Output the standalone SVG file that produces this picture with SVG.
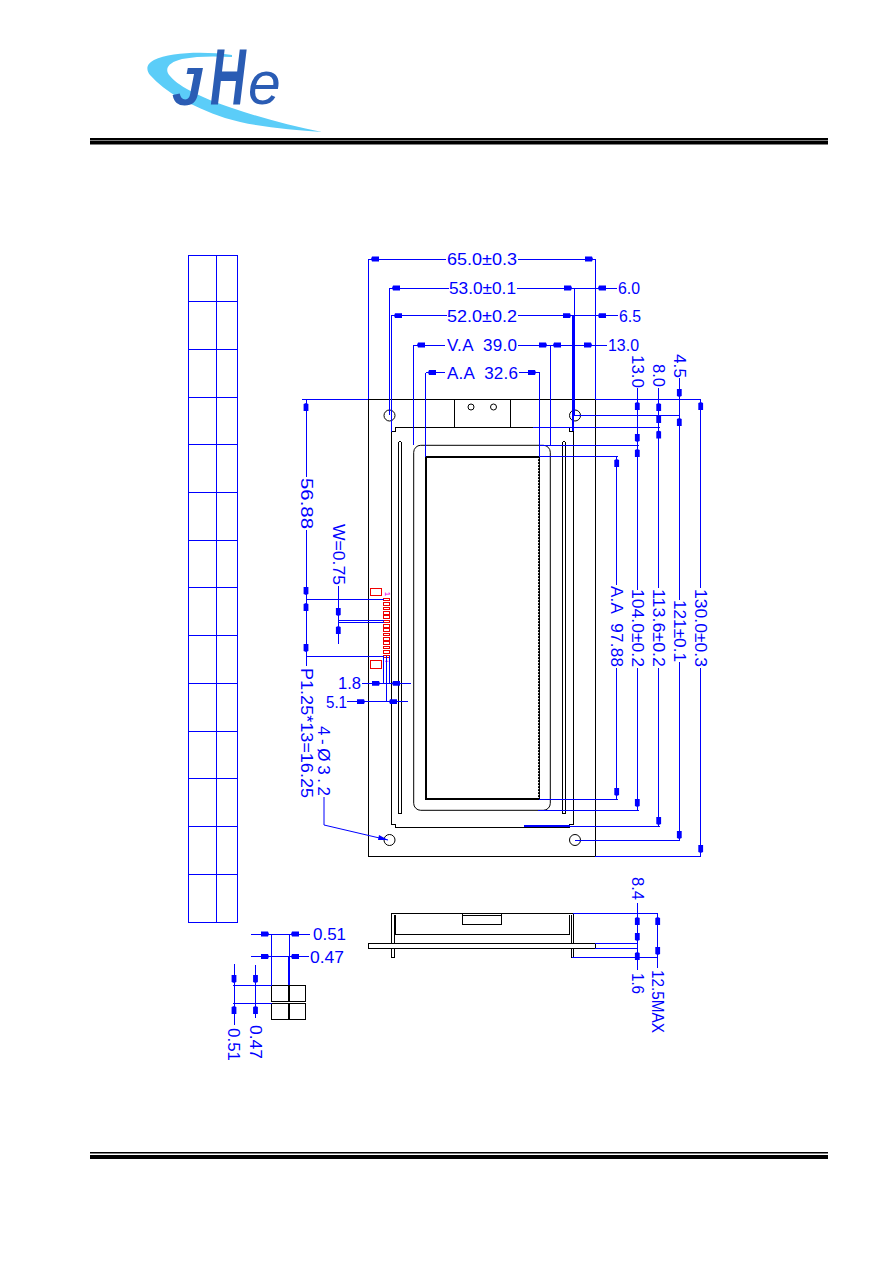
<svg xmlns="http://www.w3.org/2000/svg" xmlns:xlink="http://www.w3.org/1999/xlink" width="892" height="1263" viewBox="0 0 892 1263">
<style>
.k{fill:none;stroke:#000;stroke-width:1;shape-rendering:crispEdges}
.c{fill:none;stroke:#000;stroke-width:1}
.kt{fill:none;stroke:#000;stroke-width:2;shape-rendering:crispEdges}
.b{fill:none;stroke:#0000ff;stroke-width:1;shape-rendering:crispEdges}
.bt{fill:none;stroke:#0000ff;stroke-width:2;shape-rendering:crispEdges}
.r{fill:none;stroke:#f00000;stroke-width:1;shape-rendering:crispEdges}
.t{font-family:"Liberation Sans",Arial,sans-serif;font-size:17px;fill:#0000ff}
.af{fill:#0000ff}
.logo{font-family:"Liberation Sans",Arial,sans-serif;font-style:italic;font-weight:bold;fill:#2a5cb4}
</style>
<defs>
<path id="aL" class="af" d="M0 0L1-2.4H8V2.4H1Z"/>
<path id="aR" class="af" d="M0 0L-1-2.4H-8V2.4H-1Z"/>
<path id="aU" class="af" d="M0 0L-2.4 1V8H2.4V1Z"/>
<path id="aD" class="af" d="M0 0L-2.4-1V-8H2.4V-1Z"/>
</defs>
<rect width="892" height="1263" fill="#fff"/>

<g id="logo">
<path fill="#5bcdf8" d="M232 55C205 51 170 52 154 60C146 64 146 70 150 75C165 92 190 106 225 118C255 127 290 130 322 132C290 126 262 118 232 108C205 99 180 88 170 76C163 68 170 62 182 59C197 56 215 56 232 57Z"/>
<text class="logo" transform="translate(172 105) scale(1 1)" font-size="54">J</text>
<text class="logo" transform="translate(210 105) scale(.62 1)" font-size="80">H</text>
<text class="logo" transform="translate(248 104) scale(.95 1)" font-size="62" style="font-weight:normal">e</text>
</g>

<g id="rules" fill="#000">
<rect x="90" y="138" width="738" height="2"/>
<rect x="90" y="140.5" width="738" height="4"/>
<rect x="90" y="1152" width="738" height="1.5"/>
<rect x="90" y="1155" width="738" height="4"/>
</g>

<g id="pin-table">
<path class="b" d="M188.5 255H237.5V922.3H188.5ZM216.5 255V922.3M188.5 301H237.5M188.5 349H237.5M188.5 397H237.5M188.5 444H237.5M188.5 492H237.5M188.5 540H237.5M188.5 587H237.5M188.5 635H237.5M188.5 683H237.5M188.5 731H237.5M188.5 778H237.5M188.5 826H237.5M188.5 874H237.5"/>
</g>

<g id="front-view">
<rect class="k" x="368.3" y="399.3" width="227" height="457"/>
<path class="k" d="M454.7 399.3V427.3M510.3 399.3V427.3"/>
<circle class="c" cx="471" cy="407" r="3"/>
<circle class="c" cx="493.5" cy="407" r="3"/>
<circle class="c" cx="389.5" cy="415.5" r="5.5"/>
<circle class="c" cx="575" cy="415.5" r="5.5"/>
<circle class="c" cx="389.5" cy="840" r="5.5"/>
<circle class="c" cx="575" cy="840" r="5.5"/>
<path class="k" d="M395 427.3H569.5V431.5H573.3V824.3H569.5V827.3H395V824.3H391.7V431.5H395Z"/>
<path class="k" d="M398.3 813V444Q398.3 441.5 400 441.5Q401.7 441.5 401.7 444V813Z"/>
<path class="k" d="M562.3 813V444Q562.3 441.5 564 441.5Q565.7 441.5 565.7 444V813Z"/>
<rect class="c" x="413.7" y="445.3" width="136.6" height="365" rx="7"/>
<rect class="kt" x="426" y="457" width="113" height="342"/>
<path d="M538.6 458V798" stroke="#fff" stroke-width="1" stroke-dasharray="1.2 1.8" fill="none"/>
</g>

<g id="connector">
<rect class="r" x="370.3" y="588.3" width="11.4" height="7"/>
<rect class="r" x="370.3" y="660" width="11.4" height="8"/>
<path class="r" d="M383.3 598.3h6.4v2.6h-6.4zM383.3 602.7h6.4v2.6h-6.4zM383.3 607h6.4v2.6h-6.4zM383.3 611.4h6.4v2.6h-6.4zM383.3 615.7h6.4v2.6h-6.4zM383.3 620.1h6.4v2.6h-6.4zM383.3 624.5h6.4v2.6h-6.4zM383.3 628.8h6.4v2.6h-6.4zM383.3 633.2h6.4v2.6h-6.4zM383.3 637.5h6.4v2.6h-6.4zM383.3 641.9h6.4v2.6h-6.4zM383.3 646.3h6.4v2.6h-6.4zM383.3 650.6h6.4v2.6h-6.4zM383.3 655h6.4v2.6h-6.4z"/>
<text transform="translate(385 592) rotate(90)" font-family="Liberation Sans,Arial,sans-serif" font-size="7" font-weight="bold" fill="#f000f0">1</text>
<path d="M385 661.3H388.5" stroke="#f000f0" stroke-width="0.8" fill="none"/>
</g>

<g id="side-view">
<rect class="k" x="391.7" y="913.3" width="181.6" height="30"/>
<rect class="k" x="368.3" y="943.3" width="227" height="5"/>
<path class="k" d="M391.7 948.3V957.3H394V948.3M571 948.3V957.3H573.3V948.3"/>
<path class="kt" d="M394.7 915V934.3"/>
<path class="k" d="M394 934.3H569.5V915M571.7 915V943.3M394 934.3V943.3"/>
<path class="k" d="M462.3 913.3V924.3H501.7V913.3M462.3 915.3H501.7"/>
</g>

<g id="pad-detail">
<path class="k" d="M271.7 985.3H305.7V1001.3H271.7ZM271.7 1003.3H305.7V1019.5H271.7Z"/>
<path class="kt" d="M288.7 985.3V1001.3M288.7 1003.3V1019.5"/>
</g>

<g id="connectors">
<path class="b" d="M368.3 259V399.3M595.3 259V399.3M368.3 259H446M518 259H595.3"/>
<path class="b" d="M389.7 288V415M574.3 288V415.5M389.7 288H449M517 288H617"/>
<path class="b" d="M391 315.7V432M391 315.7H447M518 315.7H618"/>
<path class="bt" d="M573.3 315.7V431"/>
<path class="b" d="M413.7 345V445M550.3 345V445M413.7 345H445M518 345H607"/>
<path class="b" d="M425.5 372.5V457M539.5 372.5V457M425.5 372.5H445M519 372.5H539.5"/>
<use xlink:href="#aL" x="371" y="259"/><use xlink:href="#aR" x="593" y="259"/>
<use xlink:href="#aL" x="392" y="288"/><use xlink:href="#aR" x="572" y="288"/><use xlink:href="#aL" x="598" y="288"/>
<use xlink:href="#aL" x="394" y="315.7"/><use xlink:href="#aR" x="571" y="315.7"/><use xlink:href="#aL" x="598" y="315.7"/>
<use xlink:href="#aL" x="417" y="345"/><use xlink:href="#aR" x="547" y="345"/><use xlink:href="#aL" x="553" y="345"/><use xlink:href="#aR" x="592" y="345"/>
<use xlink:href="#aL" x="428" y="372.5"/><use xlink:href="#aR" x="536" y="372.5"/>
<path class="b" d="M595.3 399.3H701M575 415.4H680M533 427.3H660M539 445.3H638.5M540 456.8H617.5M539 799.3H617.5M538 810.3H638.5M570 826.4H660M575 840.3H680M595.3 856.3H701"/>
<path class="bt" d="M524 826.4H570"/>
<path class="b" d="M616.7 456.8V585M616.7 668V799.3M637.3 388V590M637.3 668V810.3M658.7 388V588M658.7 668V826.4M679.3 378V600M679.3 662V840.3M700.7 399.3V588M700.7 668V856.3"/>
<use xlink:href="#aU" x="616.7" y="459"/><use xlink:href="#aD" x="616.7" y="796"/>
<use xlink:href="#aD" x="637.3" y="442"/><use xlink:href="#aU" x="637.3" y="402"/><use xlink:href="#aU" x="637.3" y="449"/><use xlink:href="#aD" x="637.3" y="807"/>
<use xlink:href="#aU" x="658.7" y="403"/><use xlink:href="#aU" x="658.7" y="415"/><use xlink:href="#aU" x="658.7" y="430.5"/><use xlink:href="#aD" x="658.7" y="825"/>
<use xlink:href="#aD" x="679.3" y="397"/><use xlink:href="#aU" x="679.3" y="418"/><use xlink:href="#aD" x="679.3" y="839"/>
<use xlink:href="#aU" x="700.7" y="402"/><use xlink:href="#aD" x="700.7" y="853"/>
<path class="b" d="M302 399.3H368.3M306 599.3H384M306 656.3H384M306 399.3V477M306 530V666"/>
<path class="b" d="M338.3 586V644M338.3 620.7H384M338.3 622.3H384"/>
<use xlink:href="#aU" x="306" y="403"/><use xlink:href="#aD" x="306" y="595"/><use xlink:href="#aU" x="306" y="603"/><use xlink:href="#aD" x="306" y="652"/>
<use xlink:href="#aD" x="338.3" y="616"/><use xlink:href="#aU" x="338.3" y="626"/>
<path class="b" d="M383.3 656.3V683.3M389.3 656.3V683.3M386.3 656.3V701.7M362 683.3H411M347 701.7H408"/>
<use xlink:href="#aR" x="380" y="683.3"/><use xlink:href="#aL" x="392" y="683.3"/>
<use xlink:href="#aR" x="365" y="701.7"/><use xlink:href="#aL" x="389" y="701.7"/>
<path class="c" stroke="#0000ff" style="stroke:#0000ff" d="M324 797V825L388 840"/>
<path class="af" d="M388 840L378 840L379 835Z"/>
<path class="b" d="M573.3 913.3H658M595.3 943.3H637.3M595.3 948.3H637.3M572 957.3H658M637.3 903V970M657.7 913.3V968"/>
<use xlink:href="#aU" x="637.3" y="917"/><use xlink:href="#aD" x="637.3" y="941"/><use xlink:href="#aU" x="637.3" y="952"/>
<use xlink:href="#aU" x="657.7" y="917"/><use xlink:href="#aD" x="657.7" y="955"/>
<path class="b" d="M251 934H310M251 956.5H309M271.7 934V985.3M289 934V956.5M234 964V1025M255.5 965V1018M233 985.3H272M233 1003.3H272"/>
<path class="bt" d="M288.7 956.5V985.3"/>
<use xlink:href="#aR" x="269" y="934"/><use xlink:href="#aL" x="291" y="934"/>
<use xlink:href="#aR" x="269" y="956.5"/><use xlink:href="#aL" x="291" y="956.5"/>
<use xlink:href="#aD" x="234" y="983"/><use xlink:href="#aU" x="234" y="1006"/>
<use xlink:href="#aD" x="255.5" y="983"/><use xlink:href="#aU" x="255.5" y="1006"/>
</g>

<g id="labels">
<text class="t" x="447" y="265" textLength="70" lengthAdjust="spacingAndGlyphs">65.0±0.3</text>
<text class="t" x="449" y="294" textLength="67" lengthAdjust="spacingAndGlyphs">53.0±0.1</text>
<text class="t" x="618" y="294" textLength="22" lengthAdjust="spacingAndGlyphs">6.0</text>
<text class="t" x="447" y="322" textLength="70" lengthAdjust="spacingAndGlyphs">52.0±0.2</text>
<text class="t" x="619" y="322" textLength="22" lengthAdjust="spacingAndGlyphs">6.5</text>
<text class="t" x="447" y="351" textLength="70" xml:space="preserve">V.A  39.0</text>
<text class="t" x="608" y="351" textLength="31" lengthAdjust="spacingAndGlyphs">13.0</text>
<text class="t" x="447" y="378.5" textLength="71" xml:space="preserve">A.A  32.6</text>
<text class="t" transform="translate(631.5 355) rotate(90)" textLength="33" lengthAdjust="spacingAndGlyphs">13.0</text>
<text class="t" transform="translate(653 364) rotate(90)" textLength="23" lengthAdjust="spacingAndGlyphs">8.0</text>
<text class="t" transform="translate(673.5 354) rotate(90)" textLength="24" lengthAdjust="spacingAndGlyphs">4.5</text>
<text class="t" transform="translate(611 586) rotate(90)" textLength="81" xml:space="preserve">A.A  97.88</text>
<text class="t" transform="translate(631.5 589) rotate(90)" textLength="78" lengthAdjust="spacingAndGlyphs">104.0±0.2</text>
<text class="t" transform="translate(653 589) rotate(90)" textLength="78" lengthAdjust="spacingAndGlyphs">113.6±0.2</text>
<text class="t" transform="translate(673.5 600) rotate(90)" textLength="62" lengthAdjust="spacingAndGlyphs">121±0.1</text>
<text class="t" transform="translate(695 589) rotate(90)" textLength="78" lengthAdjust="spacingAndGlyphs">130.0±0.3</text>
<text class="t" transform="translate(300.5 478) rotate(90)" textLength="51" lengthAdjust="spacingAndGlyphs">56.88</text>
<text class="t" transform="translate(332.5 524) rotate(90)" textLength="61" lengthAdjust="spacingAndGlyphs">W=0.75</text>
<text class="t" transform="translate(300.5 668) rotate(90)" textLength="130" lengthAdjust="spacingAndGlyphs">P1.25*13=16.25</text>
<text class="t" transform="translate(318 726) rotate(90)" textLength="70">4-Ø3.2</text>
<text class="t" x="338" y="689" textLength="23" lengthAdjust="spacingAndGlyphs">1.8</text>
<text class="t" x="326" y="707.5" textLength="21" lengthAdjust="spacingAndGlyphs">5.1</text>
<text class="t" transform="translate(631.5 877) rotate(90)" textLength="23" lengthAdjust="spacingAndGlyphs">8.4</text>
<text class="t" transform="translate(631.5 973) rotate(90)" textLength="21" lengthAdjust="spacingAndGlyphs">1.6</text>
<text class="t" transform="translate(652 970) rotate(90)" textLength="63" lengthAdjust="spacingAndGlyphs">12.5MAX</text>
<text class="t" x="313" y="940" textLength="33" lengthAdjust="spacingAndGlyphs">0.51</text>
<text class="t" x="310" y="962.5" textLength="34" lengthAdjust="spacingAndGlyphs">0.47</text>
<text class="t" transform="translate(228 1028) rotate(90)" textLength="33" lengthAdjust="spacingAndGlyphs">0.51</text>
<text class="t" transform="translate(249.5 1025) rotate(90)" textLength="34" lengthAdjust="spacingAndGlyphs">0.47</text>
</g>
</svg>
